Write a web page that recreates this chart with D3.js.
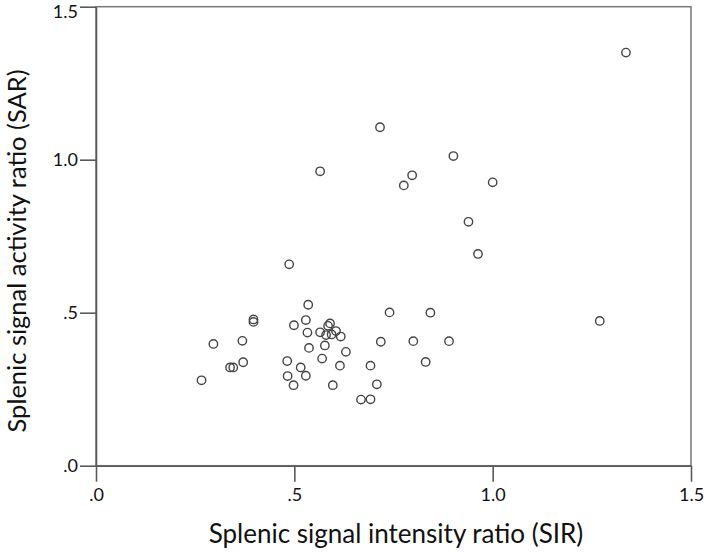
<!DOCTYPE html>
<html><head><meta charset="utf-8">
<script src="https://cdn.jsdelivr.net/npm/d3@7"></script>
<style>body{margin:0;background:#fff}</style>
</head><body><svg id="c" width="708" height="552"></svg>
<script>
const sir = [0.266,0.296,0.338,0.346,0.369,0.371,0.397,0.397,0.482,0.483,0.487,0.498,0.499,0.516,0.529,0.529,0.533,0.535,0.537,0.565,0.565,0.570,0.577,0.580,0.585,0.590,0.594,0.597,0.605,0.615,0.617,0.630,0.668,0.692,0.692,0.708,0.716,0.718,0.740,0.776,0.797,0.800,0.831,0.843,0.890,0.901,0.939,0.963,1.000,1.270,1.336];
const sar = [0.279,0.398,0.321,0.321,0.408,0.338,0.478,0.470,0.342,0.293,0.658,0.263,0.459,0.321,0.476,0.294,0.435,0.526,0.385,0.436,0.962,0.350,0.393,0.427,0.457,0.465,0.429,0.263,0.440,0.327,0.422,0.372,0.216,0.217,0.327,0.266,1.106,0.405,0.501,0.916,0.949,0.407,0.339,0.500,0.407,1.012,0.797,0.692,0.926,0.473,1.350];
const xTicks = [0, 0.5, 1.0, 1.5];
const yTicks = [0, 0.5, 1.0, 1.5];
const tickLabel = v => v === 0 ? ".0" : v === 0.5 ? ".5" : v.toFixed(1);
const xTitle = "Splenic signal intensity ratio (SIR)";
const yTitle = "Splenic signal activity ratio (SAR)";

const svg = d3.select("#c");
const L = 96, R = 691, T = 6.7, B = 465.7;
const x = d3.scaleLinear().domain([0, 1.5]).range([L, R]);
const y = d3.scaleLinear().domain([0, 1.5]).range([B, T]);
const axCol = "#5a5a5a";
const font = "Lato, 'Open Sans', sans-serif";

// box
svg.append("rect").attr("x", L).attr("y", T).attr("width", R - L).attr("height", B - T)
  .attr("fill", "none").attr("stroke", "#777").attr("stroke-width", 1.5);

const xa = svg.append("g").attr("transform", `translate(0,${B})`)
  .call(d3.axisBottom(x).tickValues(xTicks).tickFormat(tickLabel).tickSize(16).tickPadding(7).tickSizeOuter(0));
const ya = svg.append("g").attr("transform", `translate(${L},0)`)
  .call(d3.axisLeft(y).tickValues(yTicks).tickFormat(tickLabel).tickSize(16).tickPadding(2).tickSizeOuter(0));
[xa, ya].forEach(g => {
  g.select(".domain").attr("stroke", axCol).attr("stroke-width", 1.6);
  g.selectAll(".tick line").attr("stroke", axCol).attr("stroke-width", 1.6);
  g.selectAll(".tick text").attr("fill", "#111").style("font-family", font).style("font-size", "18px");
});
// keep the top label inside the picture, as in the reference
ya.selectAll(".tick text").filter(d => d === 1.5).attr("dy", "0.62em");

svg.append("g").selectAll("circle").data(sir).join("circle")
  .attr("cx", d => x(d)).attr("cy", (d, i) => y(sar[i])).attr("r", 4.2)
  .attr("fill", "none").attr("stroke", "#444").attr("stroke-width", 1.4);

svg.append("text").attr("x", 396).attr("y", 543).attr("text-anchor", "middle")
  .style("font-family", font).style("font-size", "26px").attr("fill", "#111").text(xTitle);
svg.append("text").attr("transform", `translate(26,251) rotate(-90)`).attr("text-anchor", "middle")
  .style("font-family", font).style("font-size", "25.5px").attr("fill", "#111").text(yTitle);
</script></body></html>
